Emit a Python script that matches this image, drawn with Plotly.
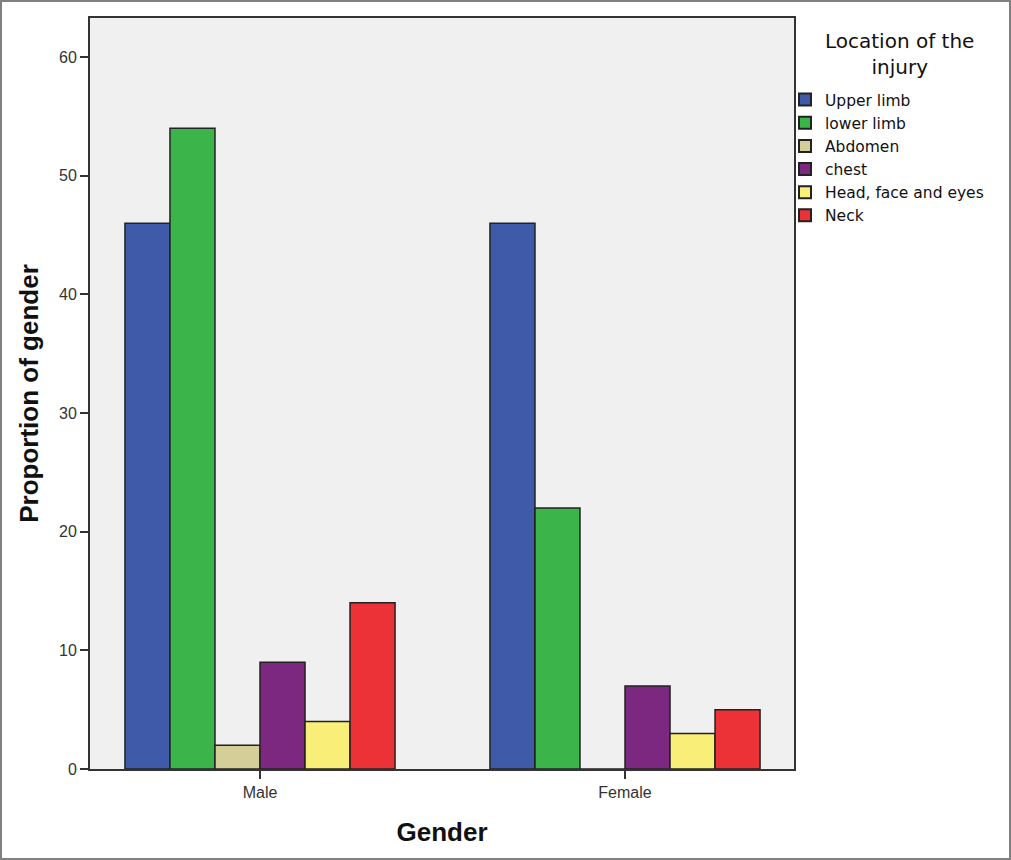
import plotly.graph_objects as go

genders = ["Male", "Female"]
locations = ["Upper limb", "lower limb", "Abdomen", "chest", "Head, face and eyes", "Neck"]
upper_limb = [46, 46]
lower_limb = [54, 22]
abdomen = [2, 0]
chest = [9, 7]
head_face_eyes = [4, 3]
neck = [14, 5]
y_ticks = [0, 10, 20, 30, 40, 50, 60]

series = [upper_limb, lower_limb, abdomen, chest, head_face_eyes, neck]
colors = ["#3f5aa8", "#3bb54a", "#d4cf98", "#7d2880", "#f8ee78", "#ec3237"]

W, H = 1011, 860
L, R, T, B = 90, 217, 18, 91
pw, ph = W - L - R, H - T - B

fig = go.Figure()
for name, vals, c in zip(locations, series, colors):
    fig.add_trace(go.Bar(
        x=genders, y=vals, name=name,
        marker=dict(color=c, line=dict(color="#222222", width=1.5)),
    ))

fig.update_layout(
    width=W, height=H,
    margin=dict(l=L, r=R, t=T, b=B, autoexpand=False),
    paper_bgcolor="white",
    plot_bgcolor="#f0f0f0",
    barmode="group",
    bargap=0.26,
    bargroupgap=0,
    font=dict(family="Liberation Sans, Arial, sans-serif", color="#222222"),
    showlegend=True,
    legend=dict(
        x=(785 - L) / pw, y=1 - (83 - T) / ph, xanchor="left", yanchor="top",
        bgcolor="rgba(0,0,0,0)",
        font=dict(size=15.5, family="DejaVu Sans, sans-serif", color="#111111"),
        itemsizing="constant",
        tracegroupgap=0,
    ),
    annotations=[dict(
        text="Location of the<br>injury", xref="paper", yref="paper",
        x=(899 - L) / pw, y=1 - (54 - T) / ph, xanchor="center", yanchor="middle",
        showarrow=False, align="center",
        font=dict(size=20, family="DejaVu Sans, sans-serif", color="#111111"),
    )],
    xaxis=dict(
        type="category",
        range=[(L - 260) / 365, (L + pw - 260) / 365],
        showline=True, linecolor="#333333", linewidth=2, mirror=True,
        ticks="outside", ticklen=8, tickcolor="#333333", tickwidth=2,
        tickfont=dict(size=16, color="#333333"),
        showgrid=False,
        title=dict(text="<b>Gender</b>", font=dict(size=26, color="#111111"), standoff=23),
    ),
    yaxis=dict(
        range=[0, (769 - T) / (769 - 57) * 60],
        tickvals=y_ticks,
        showline=True, linecolor="#333333", linewidth=2, mirror=True,
        ticks="outside", ticklen=8, tickcolor="#333333", tickwidth=2,
        tickfont=dict(size=16, color="#333333"),
        showgrid=False, zeroline=False,
        title=dict(text="<b>Proportion of gender</b>", font=dict(size=26, color="#111111"), standoff=13),
    ),
    shapes=[dict(
        type="rect", xref="paper", yref="paper",
        x0=(1 - L) / pw, x1=(W - 1 - L) / pw,
        y0=-(H - 1 - T - ph) / ph, y1=1 + (T - 1) / ph,
        line=dict(color="#808080", width=2), fillcolor="rgba(0,0,0,0)", layer="above",
    )],
)

fig.write_html("out.html", config={"displayModeBar": False},
               post_script="document.body.style.margin='0px';")
